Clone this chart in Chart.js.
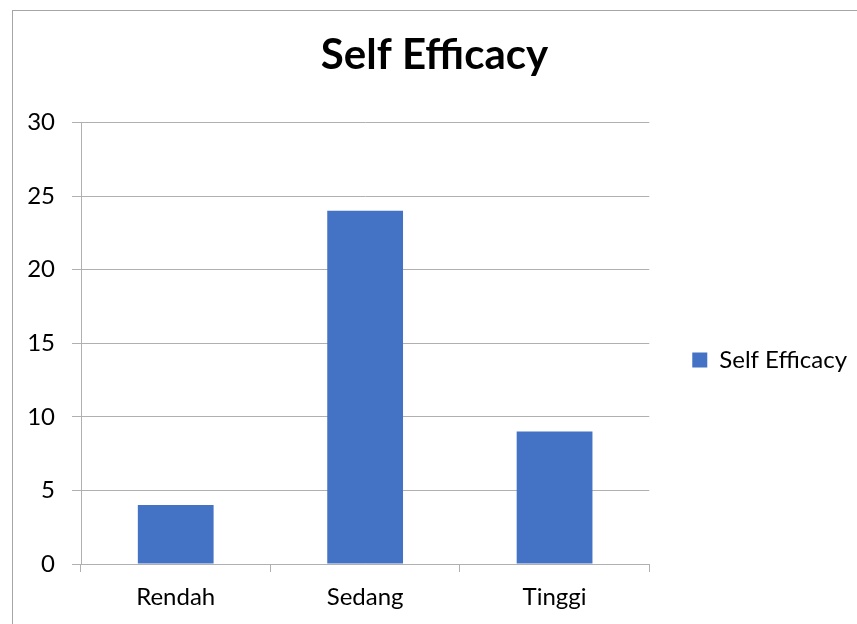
<!DOCTYPE html>
<html><head><meta charset="utf-8">
<script src="https://cdn.jsdelivr.net/npm/chart.js@4"></script>
<style>
body{margin:0;background:#fff;overflow:hidden}
#wrap{position:absolute;left:0;top:0;width:857px;height:624px}
#frame{position:absolute;left:12px;top:10px;width:900px;height:700px;border:1px solid #a6a6a6;pointer-events:none}
</style>
</head><body>
<div id="wrap"><canvas id="c" width="857" height="624"></canvas></div>
<div id="frame"></div>
<script>
const categories = ["Rendah", "Sedang", "Tinggi"];
const seriesName = "Self Efficacy";
const values = [4, 24, 9];
const yTicks = [0, 5, 10, 15, 20, 25, 30];
const titleText = "Self Efficacy";

const FONT = "Lato, 'Open Sans', sans-serif";
const gridColor = "#b0b0b0";

new Chart(document.getElementById('c'), {
  type: 'bar',
  data: {
    labels: categories,
    datasets: [{
      label: seriesName,
      data: values,
      backgroundColor: '#4472C4',
      borderWidth: 0,
      barPercentage: 0.4,
      categoryPercentage: 1.0
    }]
  },
  options: {
    responsive: false,
    animation: false,
    devicePixelRatio: 1,
    layout: { padding: { left: 12, right: 0, top: 0, bottom: 0 } },
    plugins: {
      title: {
        display: true,
        text: titleText,
        color: '#000',
        font: { family: FONT, size: 42, weight: 'bold' },
        padding: { top: 30, bottom: 42 }
      },
      legend: {
        display: true,
        position: 'right',
        title: { display: true, text: ' ', font: { size: 10 }, padding: { top: 42, bottom: 42 } },
        labels: {
          color: '#000',
          font: { family: FONT, size: 24 },
          boxWidth: 15,
          boxHeight: 15,
          padding: 43
        }
      },
      tooltip: { enabled: false }
    },
    scales: {
      x: {
        grid: { drawOnChartArea: false, drawTicks: true, tickLength: 8, color: gridColor },
        border: { display: true, color: gridColor, width: 1 },
        ticks: { color: '#000', font: { family: FONT, size: 24 }, padding: 11 },
        afterFit: (s) => { s.height = 60; }
      },
      y: {
        min: 0, max: 30,
        afterBuildTicks: (s) => { s.ticks = yTicks.map(v => ({ value: v })); },
        grid: { drawTicks: true, tickLength: 9, color: gridColor },
        border: { display: true, color: gridColor, width: 1 },
        ticks: { color: '#000', font: { family: FONT, size: 24 }, padding: 17 },
        afterFit: (s) => { s.width = 69; }
      }
    }
  }
});
</script>
</body></html>
